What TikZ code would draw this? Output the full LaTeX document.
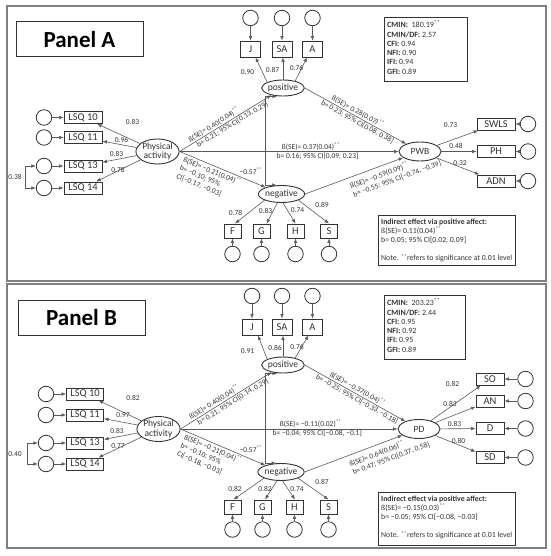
\documentclass[tikz,border=0pt]{standalone}
\usepackage{fontspec}
\setmainfont{Carlito}
\usetikzlibrary{shapes.geometric,arrows.meta}

\definecolor{linegray}{HTML}{595959}
\definecolor{inkgray}{HTML}{333333}
\definecolor{framegray}{HTML}{808080}

\tikzset{
  obs/.style={draw=inkgray, line width=0.9pt, inner sep=0pt, text=inkgray,
    minimum height=12pt, font=\fontsize{10.5}{11}\selectfont},
  latent/.style={ellipse, draw=inkgray, line width=0.9pt, inner sep=0pt, text=inkgray,
    font=\fontsize{9.5}{9.5}\selectfont},
  err/.style={circle, draw=inkgray, line width=0.8pt, minimum size=15.5pt, inner sep=0pt},
  arr/.style={draw=linegray, line width=0.6pt, -{Latex[length=4.5pt,width=3.6pt]}},
  cov/.style={draw=linegray, line width=0.6pt,
    {Latex[length=4.5pt,width=3.6pt]}-{Latex[length=4.5pt,width=3.6pt]}},
  lbl/.style={text=inkgray, inner sep=1pt, font=\fontsize{7.5}{9}\selectfont},
  infobox/.style={draw=inkgray, line width=0.9pt, inner sep=0pt},
  infotext/.style={text=inkgray, inner sep=0pt, align=left, font=\fontsize{7.8}{9.3}\selectfont},
  panelbox/.style={draw=inkgray, line width=1pt, minimum width=127pt, minimum height=35pt,
    text=black, font=\fontsize{23}{28}\selectfont\bfseries},
  panelframe/.style={draw=framegray, line width=1.5pt}
}

\begin{document}
\begin{tikzpicture}[x=1pt, y=-1pt]
\useasboundingbox (0,0) rectangle (550,556);

% =========================
% Panel A
% =========================
\begin{scope}
  % frame and title
  \draw[panelframe] (7,6) rectangle (546,281);
  \node[panelbox] (titleA) at (79.5,39.5) {Panel A};

  % latent variables
  \node[latent, minimum width=43pt, minimum height=25pt, align=center] (paA) at (157.5,151.5) {Physical\\activity};
  \node[latent, minimum width=41pt, minimum height=16pt] (posA) at (283,88) {positive};
  \node[latent, minimum width=46pt, minimum height=17pt] (negA) at (281.5,194) {negative};
  \node[latent, minimum width=42pt, minimum height=19pt] (pwbA) at (420,151.5) {PWB};

  % physical activity indicators
  \foreach \i/\y/\lx/\ly/\v in {10/117.5/132.5/121.5/0.83, 11/137.5/121.5/139.5/0.96,
                                13/166/116.5/154/0.83, 14/188/118/170/0.78} {
    \node[obs, minimum width=38pt] (lsqA\i) at (83,\y) {LSQ \i};
    \node[err] (elsqA\i) at (44,\y) {};
    \draw[arr] (elsqA\i) -- (lsqA\i);
    \draw[arr] (paA) -- (lsqA\i);
    \node[lbl] (llsqA\i) at (\lx,\ly) {\v};
  }
  \draw[cov] (elsqA13.west) -- ++(-11,0) |- (elsqA14.west);
  \node[lbl] (corA) at (15,177) {0.38};

  % positive affect indicators
  \foreach \n/\x/\lx/\ly/\v/\s/\e in {J/250.5/247.5/72.5/0.90/160/5, SA/282/272.5/69.5/0.87/90/1,
                                      A/312.5/296.5/67.5/0.76/30/-5.5} {
    \node[obs, minimum width=20pt, minimum height=16pt] (posA\n) at (\x,49) {\n};
    \node[err] (eposA\n) at (\x,18) {};
    \draw[arr] (eposA\n) -- (posA\n);
    \draw[arr] (posA.\s) -- ([xshift=\e]posA\n.south);
    \node[lbl] (lposA\n) at (\lx,\ly) {\v};
  }

  % negative affect indicators
  \foreach \n/\x/\lx/\ly/\v/\s/\e in {F/232.5/235.5/212.5/0.78/200/2.5, G/261.5/265.5/210.5/0.83/245/5,
                                      H/295.5/297.5/210.5/0.74/280/0, S/329/322/204.5/0.89/340/0} {
    \node[obs, minimum width=17pt, minimum height=14pt] (negA\n) at (\x,231) {\n};
    \node[err] (enegA\n) at (\x,254) {};
    \draw[arr] (enegA\n) -- (negA\n);
    \draw[arr] (negA.\s) -- ([xshift=\e]negA\n.north);
    \node[lbl] (lnegA\n) at (\lx,\ly) {\v};
  }

  % wellbeing indicators
  \foreach \n/\y/\lx/\ly/\v in {SWLS/124/450.5/125.5/0.73, PH/151.5/456/145.5/0.48, ADN/181/460/163.5/0.32} {
    \node[obs, minimum width=38pt] (pwbA\n) at (496,\y) {\n};
    \node[err] (epwbA\n) at (528,\y) {};
    \draw[arr] (epwbA\n) -- (pwbA\n);
    \draw[arr] (pwbA) -- (pwbA\n);
    \node[lbl] (lpwbA\n) at (\lx,\ly) {\v};
  }

  % structural paths
  \draw[arr] (paA.east) -- (posA)
    node[lbl, sloped, pos=.4, above] (bpaposA) {ß(SE)= 0.40(0.04)\textsuperscript{**}}
    node[lbl, sloped, pos=.55, below] (cpaposA) {b= 0.21; 95\% CI[0.13, 0.29]};
  \draw[arr] (paA.east) -- (negA)
    node[lbl, sloped, pos=.06, anchor=north west, align=left] (bpanegA)
      {ß(SE)= −0.21(0.04)\textsuperscript{**}\\b= −0.10; 95\%\\CI[−0.17, −0.03]};
  \draw[arr] (paA.east) -- (pwbA.west)
    node[lbl, pos=.6, above] (bpapwbA) {ß(SE)= 0.37(0.04)\textsuperscript{**}}
    node[lbl, pos=.63, below] (cpapwbA) {b= 0.16; 95\% CI[0.09, 0.23]};
  \draw[arr] (posA.east) -- (pwbA)
    node[lbl, sloped, pos=.5, above] (bpospwbA) {ß(SE)= 0.28(0.07)\textsuperscript{**}}
    node[lbl, sloped, pos=.54, below] (cpospwbA) {b= 0.23; 95\% CI[0.08, 0.38]};
  \draw[arr] (negA.east) -- (pwbA)
    node[lbl, sloped, pos=.39, anchor=north west, align=left, inner sep=4pt] (bnegpwbA)
      {ß(SE)= −0.59(0.09)\textsuperscript{**}\\b= −0.55; 95\% CI[−0.74, −0.39]};

  % affect covariance
  \draw[cov] ([xshift=-6pt]posA.south) -- ++(-12,0) |- ([xshift=-5pt]negA.north);
  \node[lbl, anchor=east] (covA) at (263.5,171.5) {−0.57\textsuperscript{**}};

  % fit and indirect effect
  \node[infobox, minimum width=83pt, minimum height=64pt, anchor=north west] (fitA) at (384,17) {};
  \node[infotext, anchor=north west, font=\fontsize{8}{9.3}\selectfont] (fitAtxt) at (387,20.5)
    {\textbf{CMIN:}\ \ 180.19\textsuperscript{**}\\\textbf{CMIN/DF:} 2.57\\\textbf{CFI:} 0.94\\
     \textbf{NFI:} 0.90\\\textbf{IFI:} 0.94\\\textbf{GFI:} 0.89};
  \node[infobox, minimum width=137pt, minimum height=50pt, anchor=north west] (indA) at (378,215) {};
  \node[infotext, anchor=north west] (indAtxt) at (381,218.5)
    {\textbf{Indirect effect via positive affect:}\\ß(SE)= 0.11(0.04)\textsuperscript{**}\\
     b= 0.05; 95\% CI[0.02, 0.09]\\[8.8pt]Note. \textsuperscript{**}refers to significance at 0.01 level};
\end{scope}

% =========================
% Panel B
% =========================
\begin{scope}[shift={(0,277)}]
  % frame and title
  \draw[panelframe] (7,7) rectangle (546,271);
  \node[panelbox] (titleB) at (81.5,40.5) {Panel B};

  % latent variables
  \node[latent, minimum width=43pt, minimum height=25pt, align=center] (paB) at (158.5,152) {Physical\\activity};
  \node[latent, minimum width=41pt, minimum height=16pt] (posB) at (283,88) {positive};
  \node[latent, minimum width=46pt, minimum height=17pt] (negB) at (281,195) {negative};
  \node[latent, minimum width=42pt, minimum height=19pt] (pdB) at (419,152) {PD};

  % physical activity indicators
  \foreach \i/\y/\lx/\ly/\v in {10/117/133/121/0.82, 11/138/123/138/0.97,
                                13/166/117/154/0.83, 14/187/118/169/0.77} {
    \node[obs, minimum width=37pt] (lsqB\i) at (85,\y) {LSQ \i};
    \node[err] (elsqB\i) at (46,\y) {};
    \draw[arr] (elsqB\i) -- (lsqB\i);
    \draw[arr] (paB) -- (lsqB\i);
    \node[lbl] (llsqB\i) at (\lx,\ly) {\v};
  }
  \draw[cov] (elsqB13.west) -- ++(-11,0) |- (elsqB14.west);
  \node[lbl] (corB) at (15,177) {0.40};

  % positive affect indicators
  \foreach \n/\x/\lx/\ly/\v/\s/\e in {J/252/247.5/74/0.91/160/6, SA/282/275/71/0.86/90/1,
                                      A/312.5/297/70/0.76/30/-4} {
    \node[obs, minimum width=20pt, minimum height=16pt] (posB\n) at (\x,50) {\n};
    \node[err] (eposB\n) at (\x,19) {};
    \draw[arr] (eposB\n) -- (posB\n);
    \draw[arr] (posB.\s) -- ([xshift=\e]posB\n.south);
    \node[lbl] (lposB\n) at (\lx,\ly) {\v};
  }

  % negative affect indicators
  \foreach \n/\x/\lx/\ly/\v/\s/\e in {F/232.5/235/212/0.82/200/1, G/262.5/265/212/0.82/245/2.5,
                                      H/294.5/297/212/0.74/280/0.5, S/328.5/322/205/0.87/340/0} {
    \node[obs, minimum width=17pt, minimum height=14pt] (negB\n) at (\x,230) {\n};
    \node[err] (enegB\n) at (\x,252.5) {};
    \draw[arr] (enegB\n) -- (negB\n);
    \draw[arr] (negB.\s) -- ([xshift=\e]negB\n.north);
    \node[lbl] (lnegB\n) at (\lx,\ly) {\v};
  }

  % distress indicators
  \foreach \n/\y/\lx/\ly/\v in {SO/102/452.5/106.5/0.82, AN/124/450/126.5/0.83,
                                D/151.5/454.5/146.5/0.83, SD/180.5/458.5/163.5/0.80} {
    \node[obs, minimum width=28pt] (pdB\n) at (490,\y) {\n};
    \node[err] (epdB\n) at (525.5,\y) {};
    \draw[arr] (epdB\n) -- (pdB\n);
    \draw[arr] (pdB) -- (pdB\n);
    \node[lbl] (lpdB\n) at (\lx,\ly) {\v};
  }

  % structural paths
  \draw[arr] (paB.east) -- (posB)
    node[lbl, sloped, pos=.4, above] (bpaposB) {ß(SE)= 0.40(0.04)\textsuperscript{**}}
    node[lbl, sloped, pos=.55, below] (cpaposB) {b= 0.21; 95\% CI[0.14, 0.29]};
  \draw[arr] (paB.east) -- (negB)
    node[lbl, sloped, pos=.06, anchor=north west, align=left] (bpanegB)
      {ß(SE)= −0.21(0.04)\textsuperscript{**}\\b= −0.10; 95\%\\CI[−0.18, −0.03]};
  \draw[arr] (paB.east) -- (pdB.west)
    node[lbl, pos=.6, above] (bpapdB) {ß(SE)= −0.11(0.02)\textsuperscript{**}}
    node[lbl, pos=.63, below] (cpapdB) {b= −0.04; 95\% CI[−0.08, −0.1]};
  \draw[arr] (posB.east) -- (pdB)
    node[lbl, sloped, pos=.5, above] (bpospdB) {ß(SE)= −0.37(0.04)\textsuperscript{**}}
    node[lbl, sloped, pos=.54, below] (cpospdB) {b= −0.25; 95\% CI[−0.33, −0.18]};
  \draw[arr] (negB.east) -- (pdB)
    node[lbl, sloped, pos=.39, anchor=north west, align=left, inner sep=4pt] (bnegpdB)
      {ß(SE)= 0.64(0.06)\textsuperscript{**}\\b= 0.47; 95\% CI[0.37, 0.58]};

  % affect covariance
  \draw[cov] ([xshift=-6pt]posB.south) -- ++(-12,0) |- ([xshift=-5pt]negB.north);
  \node[lbl, anchor=east] (covB) at (263.5,172) {−0.57\textsuperscript{**}};

  % fit and indirect effect
  \node[infobox, minimum width=81pt, minimum height=64pt, anchor=north west] (fitB) at (384,18) {};
  \node[infotext, anchor=north west, font=\fontsize{8}{9.3}\selectfont] (fitBtxt) at (387,21.5)
    {\textbf{CMIN:}\ \ 203.23\textsuperscript{**}\\\textbf{CMIN/DF:} 2.44\\\textbf{CFI:} 0.95\\
     \textbf{NFI:} 0.92\\\textbf{IFI:} 0.95\\\textbf{GFI:} 0.89};
  \node[infobox, minimum width=137pt, minimum height=53pt, anchor=north west] (indB) at (378,215) {};
  \node[infotext, anchor=north west] (indBtxt) at (381,218.5)
    {\textbf{Indirect effect via positive affect:}\\ß(SE)= −0.15(0.03)\textsuperscript{**}\\
     b= −0.05; 95\% CI[−0.08, −0.03]\\[8.8pt]Note. \textsuperscript{**}refers to significance at 0.01 level};
\end{scope}

\end{tikzpicture}
\end{document}
